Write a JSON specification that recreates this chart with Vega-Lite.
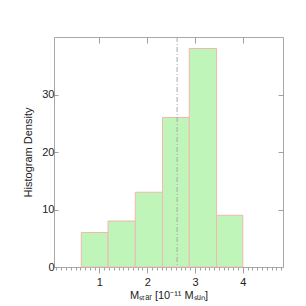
{
  "$schema": "https://vega.github.io/schema/vega-lite/v6.json",
  "autosize": "none",
  "width": 229,
  "height": 230,
  "padding": {"left": 54, "top": 37, "right": 23, "bottom": 39},
  "background": "white",
  "config": {
    "view": {"stroke": "#a8a8a8", "strokeWidth": 1},
    "axis": {
      "labelFont": "Liberation Sans",
      "titleFont": "Liberation Sans",
      "labelFontSize": 11,
      "titleFontSize": 11,
      "titleFontWeight": "normal",
      "labelColor": "#222",
      "titleColor": "#222",
      "tickColor": "#a0a0a0",
      "domain": false,
      "grid": false
    }
  },
  "datasets": {
    "bins": [
      {"lo": 0.62, "hi": 1.18, "density": 6},
      {"lo": 1.18, "hi": 1.75, "density": 8},
      {"lo": 1.75, "hi": 2.32, "density": 13},
      {"lo": 2.32, "hi": 2.88, "density": 26},
      {"lo": 2.88, "hi": 3.45, "density": 38},
      {"lo": 3.45, "hi": 4.0, "density": 9}
    ],
    "mark": [{"m": 2.625}]
  },
  "layer": [
    {
      "data": {"name": "bins"},
      "mark": {"type": "bar", "fill": "#bff5b8", "stroke": "#f0b8b0", "strokeWidth": 1},
      "encoding": {
        "x": {
          "field": "lo", "type": "quantitative",
          "scale": {"domain": [0.05, 4.84], "nice": false, "zero": false},
          "axis": {
            "orient": "bottom",
            "values": [1, 2, 3, 4],
            "tickSize": 6,
            "labelPadding": 3,
            "title": "Mₛₜₐᵣ [10⁻¹¹ Mₛᵤₙ]",
            "titlePadding": 2
          }
        },
        "x2": {"field": "hi"},
        "y": {
          "field": "density", "type": "quantitative",
          "scale": {"domain": [0, 40], "nice": false},
          "axis": {
            "orient": "left",
            "values": [0, 10, 20, 30],
            "tickSize": -4,
            "labelPadding": 4,
            "title": "Histogram Density",
            "titlePadding": 8
          }
        },
        "y2": {"datum": 0}
      }
    },
    {
      "data": {"name": "mark"},
      "mark": {"type": "rule", "color": "#a8a8a8", "strokeWidth": 1, "strokeDash": [5, 2, 1, 2]},
      "encoding": {
        "x": {
          "field": "m", "type": "quantitative",
          "axis": {
            "orient": "bottom",
            "values": [0.1,0.2,0.3,0.4,0.5,0.6,0.7,0.8,0.9,1.0,1.1,1.2,1.3,1.4,1.5,1.6,1.7,1.8,1.9,2.0,2.1,2.2,2.3,2.4,2.5,2.6,2.7,2.8,2.9,3.0,3.1,3.2,3.3,3.4,3.5,3.6,3.7,3.8,3.9,4.0,4.1,4.2,4.3,4.4,4.5,4.6,4.7,4.8],
            "tickSize": 3,
            "labels": false,
            "title": null
          }
        }
      }
    },
    {
      "data": {"name": "bins"},
      "mark": {"type": "bar", "opacity": 0},
      "encoding": {
        "x": {
          "field": "lo", "type": "quantitative",
          "axis": {"orient": "top", "values": [1, 2, 3, 4], "tickSize": -6, "labels": false, "title": null}
        },
        "x2": {"field": "hi"},
        "y": {
          "field": "density", "type": "quantitative",
          "axis": {"orient": "right", "values": [10, 20, 30], "tickSize": -5, "labels": false, "title": null}
        },
        "y2": {"datum": 0}
      }
    }
  ],
  "resolve": {"axis": {"x": "independent", "y": "independent"}}
}
